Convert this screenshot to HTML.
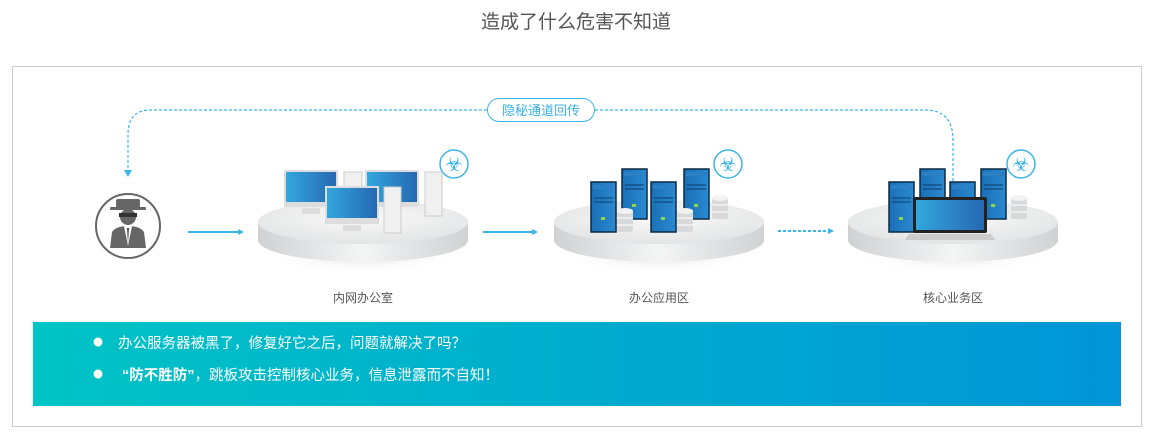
<!DOCTYPE html>
<html><head><meta charset="utf-8"><style>
body{margin:0;width:1153px;height:439px;background:#fff;overflow:hidden;font-family:"Liberation Sans","Noto Sans CJK SC",sans-serif}
</style></head><body>
<svg width="1153" height="439" viewBox="0 0 1153 439" xmlns="http://www.w3.org/2000/svg" style="position:absolute;left:0;top:0">
<defs>
<linearGradient id="ban" x1="0" x2="1"><stop offset="0" stop-color="#00c4c5"/><stop offset="1" stop-color="#0095d7"/></linearGradient>
<linearGradient id="side" x1="0" x2="1"><stop offset="0" stop-color="#cfd1d3"/><stop offset=".5" stop-color="#f4f5f5"/><stop offset="1" stop-color="#cfd1d3"/></linearGradient>
<radialGradient id="top" cx=".5" cy=".4" r=".6"><stop offset="0" stop-color="#fafafa"/><stop offset="1" stop-color="#e3e4e5"/></radialGradient>
<radialGradient id="shd" cx=".5" cy=".5" r=".5"><stop offset="0" stop-color="#e8e8e8"/><stop offset="1" stop-color="#fff" stop-opacity="0"/></radialGradient>
<linearGradient id="scr" x1="0" x2="1"><stop offset="0" stop-color="#33a7dc"/><stop offset="1" stop-color="#2568b3"/></linearGradient>
<linearGradient id="srv" x1="0" x2="1"><stop offset="0" stop-color="#1a6fb5"/><stop offset="1" stop-color="#2a8ad2"/></linearGradient>
<g id="plat">
<ellipse cx="0" cy="258" rx="100" ry="16" fill="url(#shd)"/>
<path d="M-105 222 L-105 240 A105 22 0 0 0 105 240 L105 222 Z" fill="url(#side)"/>
<ellipse cx="0" cy="222" rx="105" ry="22" fill="url(#top)"/>
</g>
<g id="bio">
<circle r="14" fill="#fff" stroke="#3bb4e8" stroke-width="1.5"/>
<text x="0" y="7" font-size="20" text-anchor="middle" fill="#3bb4e8">☣</text>
</g>
<g id="server">
<rect x="0" y="0" width="25" height="50" fill="url(#srv)" stroke="#0b2a45" stroke-width="1.5"/>
<rect x="2" y="3" width="21" height="4" fill="#2b7fc4"/>
<line x1="3" y1="16" x2="22" y2="16" stroke="#0d3a66"/>
<line x1="3" y1="20" x2="22" y2="20" stroke="#0d3a66"/>
<rect x="10" y="35" width="4" height="3" fill="#8fd44a"/>
</g>
<g id="disk">
<rect x="0" y="0" width="16" height="22" fill="#d8d9da" rx="2"/>
<ellipse cx="8" cy="1" rx="8" ry="3" fill="#f2f2f2"/>
<line x1="0" y1="8" x2="16" y2="8" stroke="#fff"/><line x1="0" y1="15" x2="16" y2="15" stroke="#fff"/>
</g>
</defs>

<text x="576" y="28" font-size="19" fill="#555" text-anchor="middle">造成了什么危害不知道</text>
<rect x="12.5" y="66.5" width="1129" height="360" fill="none" stroke="#c8cccf"/>

<path d="M487 110 L150 110 Q128 110 128 135 L128 173" fill="none" stroke="#3bb4e8" stroke-width="1.2" stroke-dasharray="3,2"/>
<path d="M124 170 L128 177 L132 170 Z" fill="#3bb4e8"/>
<path d="M595 110 L925 110 Q953 110 953 140 L953 183" fill="none" stroke="#3bb4e8" stroke-width="1.2" stroke-dasharray="3,2"/>
<rect x="487.5" y="98.5" width="107" height="23" rx="11.5" fill="#fff" stroke="#3bb4e8"/>
<text x="541" y="115" font-size="13" fill="#3bb4e8" text-anchor="middle">隐秘通道回传</text>

<circle cx="128" cy="226" r="32" fill="#fff" stroke="#666" stroke-width="2"/>
<rect x="116" y="199" width="24" height="9" fill="#666" rx="2"/>
<rect x="110" y="207" width="36" height="3" fill="#666" rx="1"/>
<circle cx="128" cy="217" r="8" fill="#666"/>
<rect x="119" y="213" width="18" height="4" fill="#333"/>
<path d="M110 248 L112 232 Q116 226 128 226 Q140 226 144 232 L146 248 Z" fill="#666"/>
<path d="M124 226 L128 246 L132 226 Z" fill="#fff"/><path d="M127 228 L128 244 L129 228Z" fill="#444"/>

<line x1="188" y1="232" x2="240" y2="232" stroke="#3bb4e8" stroke-width="2"/><path d="M238 229 L244 232 L238 235Z" fill="#3bb4e8"/>
<line x1="483" y1="232" x2="534" y2="232" stroke="#3bb4e8" stroke-width="2"/><path d="M532 229 L538 232 L532 235Z" fill="#3bb4e8"/>
<line x1="778" y1="231" x2="828" y2="231" stroke="#3bb4e8" stroke-width="2" stroke-dasharray="3,2"/><path d="M828 228 L834 231 L828 234Z" fill="#3bb4e8"/>

<use href="#plat" x="363" y="0"/>
<use href="#bio" x="454" y="164"/>
<g>
<rect x="344" y="172" width="18" height="40" fill="#f0f0f0" stroke="#ccc"/>
<rect x="425" y="172" width="17" height="44" fill="#f0f0f0" stroke="#ccc"/>
<rect x="284" y="170" width="54" height="37" fill="#ddd"/><rect x="286" y="172" width="50" height="30" fill="url(#scr)"/>
<rect x="302" y="208" width="18" height="6" fill="#ddd"/>
<rect x="365" y="170" width="54" height="37" fill="#ddd"/><rect x="367" y="172" width="50" height="30" fill="url(#scr)"/>
<rect x="325" y="186" width="54" height="38" fill="#ddd"/><rect x="327" y="188" width="50" height="30" fill="url(#scr)"/>
<rect x="343" y="225" width="18" height="6" fill="#ddd"/>
<rect x="384" y="187" width="17" height="46" fill="#f0f0f0" stroke="#ccc"/>
</g>
<text x="363" y="302" font-size="12" fill="#555" text-anchor="middle">内网办公室</text>

<use href="#plat" x="659" y="0"/>
<use href="#bio" x="728" y="164"/>
<use href="#server" x="622" y="169"/><use href="#server" x="684" y="169"/>
<use href="#server" x="591" y="182"/><use href="#server" x="651" y="182"/>
<use href="#disk" x="617" y="210"/><use href="#disk" x="677" y="210"/><use href="#disk" x="712" y="197"/>
<text x="659" y="302" font-size="12" fill="#555" text-anchor="middle">办公应用区</text>

<use href="#plat" x="953" y="0"/>
<use href="#bio" x="1021" y="164"/>
<use href="#server" x="920" y="169"/><use href="#server" x="981" y="169"/>
<use href="#server" x="889" y="182"/><use href="#server" x="950" y="182"/>
<use href="#disk" x="1011" y="197"/><use href="#disk" x="966" y="210"/>
<rect x="913" y="197" width="74" height="36" rx="2" fill="#222"/>
<rect x="916" y="200" width="68" height="30" fill="url(#scr)"/>
<path d="M909 234 L991 234 L995 240 L905 240 Z" fill="#ccc"/>
<text x="953" y="302" font-size="12" fill="#555" text-anchor="middle">核心业务区</text>

<rect x="33" y="322" width="1088" height="84" fill="url(#ban)"/>
<circle cx="98" cy="342" r="4.5" fill="#fff"/>
<circle cx="98" cy="374" r="4.5" fill="#fff"/>
<text x="118" y="348" font-size="14.5" fill="#fff">办公服务器被黑了，修复好它之后，问题就解决了吗？</text>
<text x="122" y="380" font-size="14.5" fill="#fff"><tspan font-weight="bold">“防不胜防”</tspan>，跳板攻击控制核心业务，信息泄露而不自知！</text>
</svg>
</body></html>
